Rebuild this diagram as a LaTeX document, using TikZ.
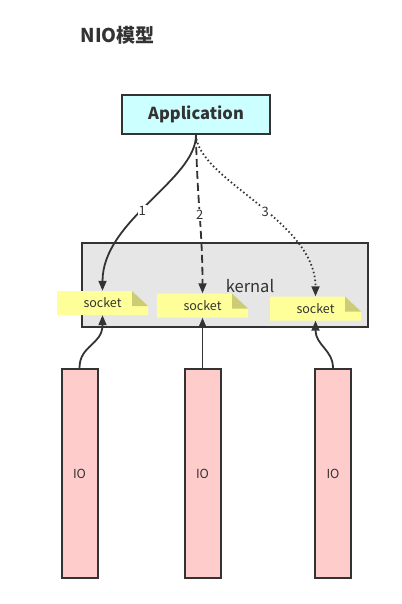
\documentclass[tikz,border=0pt]{standalone}
\usepackage{fontspec}
\setmainfont{Noto Sans CJK SC}
\usetikzlibrary{arrows.meta}
\definecolor{ink}{HTML}{333333}
\definecolor{appfill}{HTML}{CCFFFF}
\definecolor{kernfill}{HTML}{E6E6E6}
\definecolor{notey}{HTML}{FFFF99}
\definecolor{notefold}{HTML}{CCCC77}
\definecolor{iofill}{HTML}{FFCCCC}
\tikzset{
  box/.style={draw=ink, line width=2pt, inner sep=0pt, text=ink},
  note/.style={inner sep=0pt, minimum width=91pt, minimum height=24pt, text=ink, font=\fontsize{12.5}{14}\selectfont,
    path picture={
      \fill[notey] (path picture bounding box.south west) -- (path picture bounding box.north west)
        -- ([xshift=-16pt]path picture bounding box.north east) -- ([yshift=-15pt]path picture bounding box.north east)
        -- (path picture bounding box.south east) -- cycle;
      \fill[notefold] ([xshift=-16pt]path picture bounding box.north east)
        -- ([xshift=-16pt,yshift=-15pt]path picture bounding box.north east)
        -- ([yshift=-15pt]path picture bounding box.north east) -- cycle;
    }},
  iobox/.style={box, fill=iofill, minimum width=36pt, minimum height=209pt, font=\fontsize{12.5}{14}\selectfont},
  conn/.style={draw=ink, line width=1.8pt, -{Triangle[length=10pt,width=8pt]}},
  lbl/.style={fill=white, inner sep=1pt, text=ink, font=\fontsize{13}{14}\selectfont},
}
\begin{document}
\begin{tikzpicture}[x=1pt,y=-1pt]
\useasboundingbox (0,0) rectangle (401,604);
\node[text=ink, font=\fontsize{19}{21}\selectfont\bfseries, anchor=west] (title) at (77,35) {NIO模型};
\node[box, fill=appfill, minimum width=148pt, minimum height=39pt, font=\fontsize{16.5}{18}\selectfont\bfseries] (app) at (196,114.5) {Application};
\node[box, fill=kernfill, minimum width=286pt, minimum height=84pt,
  label={[text=ink, font=\fontsize{16.5}{18}\selectfont, xshift=25pt, yshift=-1pt]center:kernal}] (kern) at (225,285) {};
\node[note] (s1) at (102.5,303) {socket};
\node[note] (s2) at (202.5,305.5) {socket};
\node[note] (s3) at (315.5,308.5) {socket};
\node[iobox] (io1) at (79.5,473.5) {IO};
\node[iobox] (io2) at (202.5,473.5) {IO};
\node[iobox] (io3) at (333,473.5) {IO};
\draw[conn] (app.south) .. controls (196,180) and (102.5,220) .. (s1.north) node[lbl, pos=0.55] {1};
\draw[conn, dash pattern=on 8pt off 4pt] (app.south) .. controls (197,200) and (202.5,230) .. (s2.north) node[lbl, pos=0.5] {2};
\draw[conn, dash pattern=on 1.5pt off 2.5pt] (app.south) .. controls (198,180) and (315.5,220) .. (s3.north) node[lbl, pos=0.55] {3};
\draw[conn] (io1.north) .. controls (79.5,345) and (102.5,345) .. (s1.south);
\draw[conn] (io2.north) -- (s2.south);
\draw[conn] (io3.north) .. controls (333,350) and (315.5,345) .. (s3.south);
\end{tikzpicture}
\end{document}
